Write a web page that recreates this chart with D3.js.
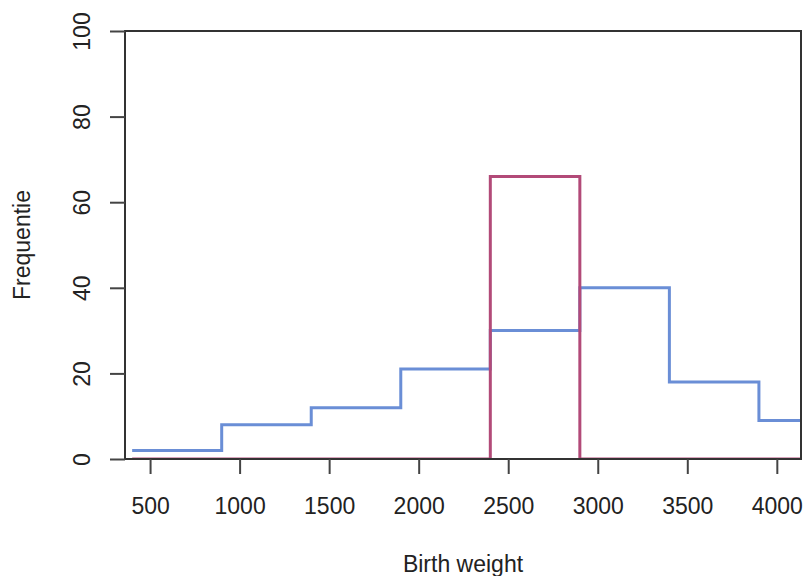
<!DOCTYPE html>
<html><head><meta charset="utf-8">
<script src="https://cdn.jsdelivr.net/npm/d3@7"></script>
<style>
html,body{margin:0;padding:0;background:#fff;}
text{font-family:"Liberation Sans",Arial,Helvetica,sans-serif;fill:#222;}
</style></head>
<body>
<svg id="chart" width="805" height="576"></svg>
<script>
const binStarts = [400, 900, 1400, 1900, 2400, 2900, 3400, 3900, 4400];
const allBirths = [2, 8, 12, 21, 30, 40, 18, 9];
const subgroup = [0, 0, 0, 0, 66, 0, 0, 0];
const xTicks = [500, 1000, 1500, 2000, 2500, 3000, 3500, 4000];
const yTicks = [0, 20, 40, 60, 80, 100];

const svg = d3.select("#chart");
const L = 125, R = 801, T = 31, B = 459;
const x = d3.scaleLinear().domain([360, 4135]).range([L, R]);
const y = d3.scaleLinear().domain([0, 100]).range([B, T]);

svg.append("defs").append("clipPath").attr("id","clip")
  .append("rect").attr("x",L).attr("y",T).attr("width",R-L).attr("height",B-T);

function stepPts(vals){
  const pts = vals.map((v,i)=>[binStarts[i], v]);
  pts.push([binStarts[vals.length], vals[vals.length-1]]);
  return pts;
}
const line = d3.line().x(d=>x(d[0])).y(d=>y(d[1])).curve(d3.curveStepAfter);

const g = svg.append("g").attr("clip-path","url(#clip)");
g.append("path").attr("d", line(stepPts(allBirths)))
  .attr("fill","none").attr("stroke","#6a8ed6").attr("stroke-width",3);
g.append("path").attr("d", line(stepPts(subgroup)))
  .attr("fill","none").attr("stroke","#b24a78").attr("stroke-width",3);

// box
svg.append("rect").attr("x",L).attr("y",T).attr("width",R-L).attr("height",B-T)
  .attr("fill","none").attr("stroke","#333").attr("stroke-width",2);

// x axis
const xa = svg.append("g").attr("transform",`translate(0,${B})`)
  .call(d3.axisBottom(x).tickValues(xTicks).tickSize(15).tickSizeOuter(0).tickPadding(24).tickFormat(d3.format("d")));
xa.select(".domain").remove();
xa.selectAll("line").attr("stroke","#444").attr("stroke-width",2);
xa.selectAll("text").attr("font-size",23).style("font-family","Liberation Sans, Arial, sans-serif").attr("fill","#222");

// y axis
const ya = svg.append("g").attr("transform",`translate(${L},0)`)
  .call(d3.axisLeft(y).tickValues(yTicks).tickSize(15).tickSizeOuter(0).tickFormat(d3.format("d")));
ya.select(".domain").remove();
ya.selectAll("line").attr("stroke","#444").attr("stroke-width",2);
ya.selectAll("text")
  .attr("x",0).attr("dy",0)
  .attr("transform","translate(-35,0) rotate(-90)")
  .attr("text-anchor","middle")
  .attr("font-size",23).style("font-family","Liberation Sans, Arial, sans-serif").attr("fill","#222");

svg.append("text").attr("x",(L+R)/2).attr("y",572).attr("text-anchor","middle")
  .attr("font-size",23).text("Birth weight");
svg.append("text").attr("transform",`translate(30,${(T+B)/2}) rotate(-90)`)
  .attr("text-anchor","middle").attr("font-size",23).text("Frequentie");
</script>
</body></html>
